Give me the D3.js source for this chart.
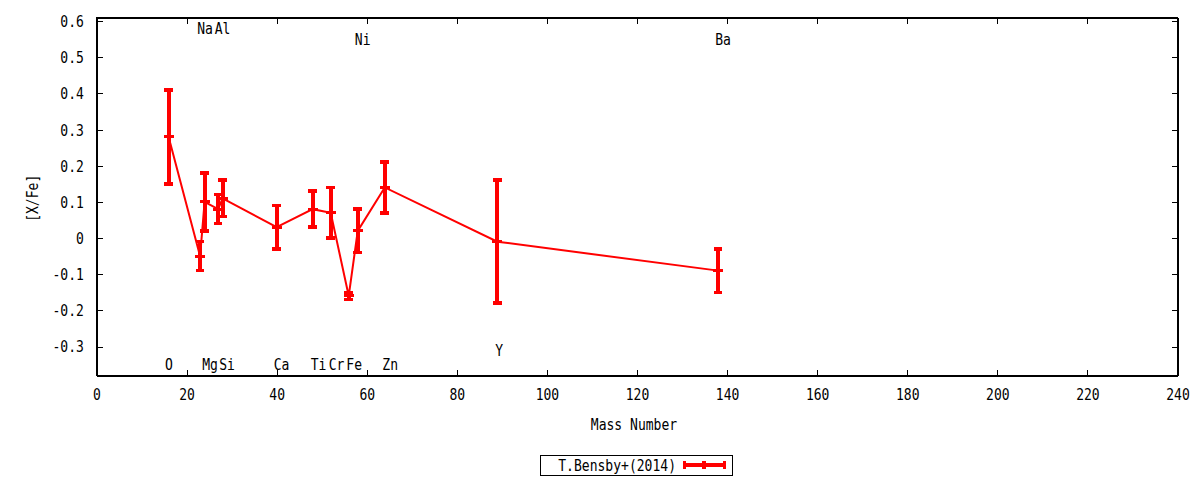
<!DOCTYPE html>
<html>
<head>
<meta charset="utf-8">
<script src="https://cdn.jsdelivr.net/npm/d3@7"></script>
<style>
  body { margin: 0; background: #fff; }
  text { font-family: "DejaVu Sans Mono", monospace; font-size: 15px; fill: #000; }
</style>
</head>
<body>
<div id="chart"></div>
<script>
// data
let elements = ['O', 'Na', 'Mg', 'Al', 'Si', 'Ca', 'Ti', 'Cr', 'Fe', 'Ni', 'Zn', 'Y', 'Ba'];
let massNumber = [16, 23, 24, 27, 28, 40, 48, 52, 56, 58, 64, 89, 138];
let xfe = [0.28, -0.05, 0.10, 0.08, 0.11, 0.03, 0.08, 0.07, -0.16, 0.02, 0.14, -0.01, -0.09];
let xfeErr = [0.13, 0.04, 0.08, 0.04, 0.05, 0.06, 0.05, 0.07, 0.01, 0.06, 0.07, 0.17, 0.06];
// element label placement (data units)
let labelX = [16.1, 24.1, 25.2, 28.0, 29.0, 41.1, 49.3, 53.3, 57.2, 59.1, 65.2, 89.4, 139.1];
let labelY = [-0.35, 0.58, -0.35, 0.58, -0.35, -0.35, -0.35, -0.35, -0.35, 0.55, -0.35, -0.31, 0.55];
let xTicks = d3.range(0, 241, 20);
let yTicks = [-0.3, -0.2, -0.1, 0, 0.1, 0.2, 0.3, 0.4, 0.5, 0.6];
let seriesName = 'T.Bensby+(2014)';

let config = {
  'svg': { 'width': 1200, 'height': 480 },
  'plot': { 'left': 96.5, 'right': 1177.5, 'top': 17.5, 'bottom': 375.5 }
};
let squeeze = 0.87; // narrow the mono font like gnuplot's

let svg = d3.select('#chart').append('svg')
    .attr('width', config.svg.width)
    .attr('height', config.svg.height);

let x = d3.scaleLinear().domain([0, 240]).range([config.plot.left, config.plot.right]);
let y = d3.scaleLinear().domain([-0.38, 0.61]).range([config.plot.bottom, config.plot.top]);

function label(px, py, str, anchor, rotate) {
  let t = 'translate(' + px + ',' + py + ')';
  if (rotate) t += ' rotate(' + rotate + ')';
  t += ' scale(' + squeeze + ',1)';
  return svg.append('text')
    .attr('transform', t)
    .attr('text-anchor', anchor || 'middle')
    .text(str);
}

function yFormat(d) {
  let v = Math.round(d * 10) / 10;
  return v === 0 ? '0' : String(v);
}

// axes, ticks pointing inward on all four sides
let bottom = svg.append('g')
    .attr('transform', 'translate(0,' + config.plot.bottom + ')')
    .call(d3.axisBottom(x).tickValues(xTicks).tickSizeInner(-6).tickSizeOuter(0).tickPadding(14));
let left = svg.append('g')
    .attr('transform', 'translate(' + config.plot.left + ',0)')
    .call(d3.axisLeft(y).tickValues(yTicks).tickFormat(yFormat).tickSizeInner(-6).tickSizeOuter(0).tickPadding(14.5));
svg.append('g')
    .attr('transform', 'translate(0,' + config.plot.top + ')')
    .call(d3.axisTop(x).tickValues(xTicks).tickFormat('').tickSizeInner(-6).tickSizeOuter(0));
svg.append('g')
    .attr('transform', 'translate(' + config.plot.right + ',0)')
    .call(d3.axisRight(y).tickValues(yTicks).tickFormat('').tickSizeInner(-6).tickSizeOuter(0));

svg.selectAll('.tick line').attr('stroke', '#000').attr('shape-rendering', 'crispEdges');
svg.selectAll('.domain').attr('stroke', '#000').attr('shape-rendering', 'crispEdges');
svg.selectAll('.tick text')
    .attr('font-family', '"DejaVu Sans Mono", monospace')
    .attr('font-size', '15px')
    .attr('fill', '#000')
    .attr('transform', 'scale(' + squeeze + ',1)');
bottom.selectAll('.tick text').attr('y', 13.5);
left.selectAll('.tick text').attr('dy', '0.36em');
// hide the top-right tick overlapping the frame corner
bottom.selectAll('.tick line').filter(d => d === 0 || d === 240).remove();

svg.append('rect')
    .attr('x', config.plot.left)
    .attr('y', config.plot.top)
    .attr('width', config.plot.right - config.plot.left)
    .attr('height', config.plot.bottom - config.plot.top)
    .attr('fill', 'none')
    .attr('stroke', '#000')
    .attr('shape-rendering', 'crispEdges');

// axis titles
label(33, y(0.11), '[X/Fe]', 'middle', -90).attr('dy', '0.36em');
label(634, 430, 'Mass Number');

// element labels
elements.forEach(function(el, i) {
  label(x(labelX[i]), y(labelY[i]), el).attr('dy', '0.36em');
});

// series
let red = '#ff0000';
let points = massNumber.map(function(m, i) {
  return { 'm': m, 'v': xfe[i], 'e': xfeErr[i] };
});

svg.append('path')
    .datum(points)
    .attr('fill', 'none')
    .attr('stroke', red)
    .attr('stroke-width', 2)
    .attr('d', d3.line().x(d => x(d.m)).y(d => y(d.v)));

let bars = svg.append('g').attr('stroke', red).attr('shape-rendering', 'crispEdges');
let bar = bars.selectAll('g').data(points).enter().append('g');
bar.append('line')
    .attr('x1', d => x(d.m)).attr('x2', d => x(d.m))
    .attr('y1', d => y(d.v + d.e)).attr('y2', d => y(d.v - d.e))
    .attr('stroke-width', 4);
bar.append('line')
    .attr('x1', d => x(d.m) - 4.3).attr('x2', d => x(d.m) + 4.3)
    .attr('y1', d => y(d.v + d.e)).attr('y2', d => y(d.v + d.e))
    .attr('stroke-width', 3.5);
bar.append('line')
    .attr('x1', d => x(d.m) - 4.3).attr('x2', d => x(d.m) + 4.3)
    .attr('y1', d => y(d.v - d.e)).attr('y2', d => y(d.v - d.e))
    .attr('stroke-width', 3.5);
bar.append('line')
    .attr('x1', d => x(d.m) - 5).attr('x2', d => x(d.m) + 5)
    .attr('y1', d => y(d.v)).attr('y2', d => y(d.v))
    .attr('stroke-width', 3);

// legend
let legend = svg.append('g');
legend.append('rect')
    .attr('x', 540.5).attr('y', 455.5)
    .attr('width', 192).attr('height', 20)
    .attr('fill', 'none').attr('stroke', '#000')
    .attr('shape-rendering', 'crispEdges');
label(676, 470.5, seriesName, 'end');
let key = legend.append('g').attr('stroke', red).attr('shape-rendering', 'crispEdges');
key.append('line').attr('x1', 683).attr('x2', 726).attr('y1', 465).attr('y2', 465).attr('stroke-width', 4.5);
[684.5, 704, 724.5].forEach(function(kx) {
  key.append('line').attr('x1', kx).attr('x2', kx).attr('y1', 461).attr('y2', 469).attr('stroke-width', 3.5);
});
</script>
</body>
</html>
